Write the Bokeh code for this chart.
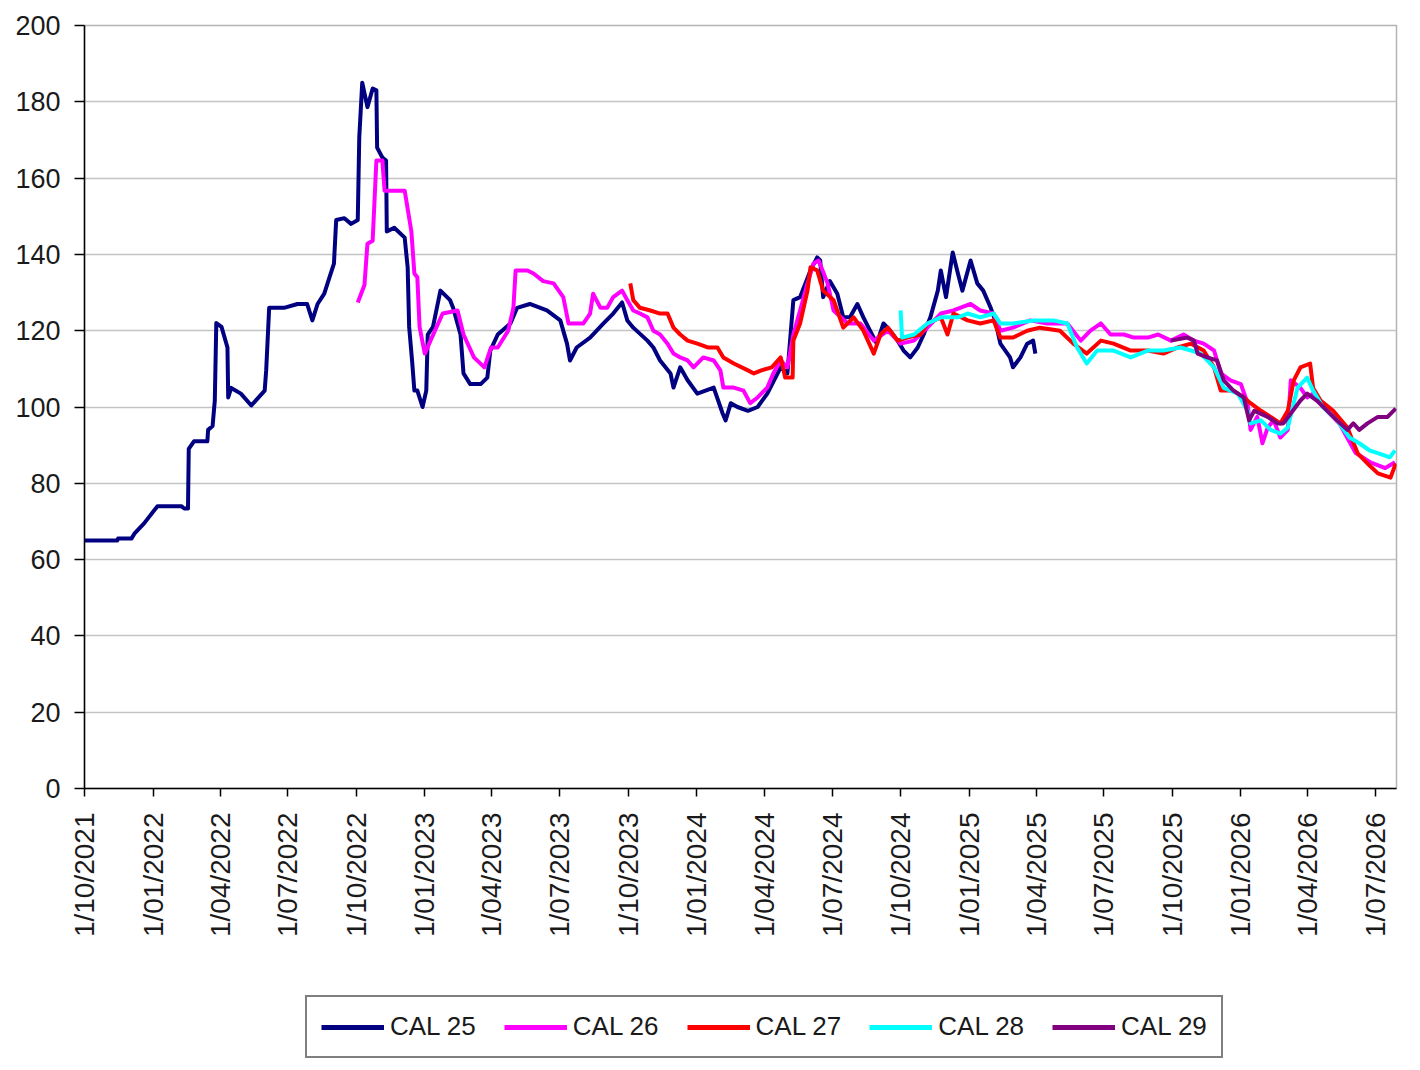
from math import pi

import pandas as pd
from bokeh.plotting import figure
from bokeh.layouts import column
from bokeh.models import Range1d, FixedTicker, Legend, LegendItem
from bokeh.embed import file_html
from bokeh.resources import INLINE

# data (dates are approximate)
cal25_dates = ["2021-10-01", "2021-11-14", "2021-11-15", "2021-12-03", "2021-12-07", "2021-12-20",
               "2022-01-07", "2022-02-08", "2022-02-12", "2022-02-17", "2022-02-18", "2022-02-25",
               "2022-03-15", "2022-03-16", "2022-03-22", "2022-03-25", "2022-03-27", "2022-04-03",
               "2022-04-11", "2022-04-12", "2022-04-16", "2022-04-29", "2022-05-13", "2022-05-31",
               "2022-06-02", "2022-06-06", "2022-06-26", "2022-07-14", "2022-07-27", "2022-08-03",
               "2022-08-10", "2022-08-19", "2022-08-26", "2022-09-01", "2022-09-04", "2022-09-15",
               "2022-09-24", "2022-10-03", "2022-10-05", "2022-10-09", "2022-10-16", "2022-10-23",
               "2022-10-28", "2022-10-29", "2022-11-05", "2022-11-10", "2022-11-11", "2022-11-21",
               "2022-12-05", "2022-12-09", "2022-12-11", "2022-12-15", "2022-12-18", "2022-12-22",
               "2022-12-29", "2023-01-03", "2023-01-05", "2023-01-12", "2023-01-22", "2023-02-04",
               "2023-02-08", "2023-02-18", "2023-02-22", "2023-03-03", "2023-03-17", "2023-03-26",
               "2023-03-30", "2023-04-09", "2023-04-26", "2023-05-05", "2023-05-22", "2023-06-14",
               "2023-07-02", "2023-07-11", "2023-07-15", "2023-07-24", "2023-08-11", "2023-08-29",
               "2023-09-11", "2023-09-23", "2023-09-30", "2023-10-08", "2023-10-27", "2023-11-04",
               "2023-11-13", "2023-11-27", "2023-12-01", "2023-12-10", "2023-12-20", "2024-01-02",
               "2024-01-24", "2024-02-05", "2024-02-09", "2024-02-16", "2024-02-25", "2024-03-10",
               "2024-03-23", "2024-04-05", "2024-04-23", "2024-05-02", "2024-05-10", "2024-05-19",
               "2024-06-02", "2024-06-11", "2024-06-15", "2024-06-19", "2024-06-28", "2024-07-08",
               "2024-07-16", "2024-07-25", "2024-08-04", "2024-08-12", "2024-08-21", "2024-08-30",
               "2024-09-08", "2024-09-17", "2024-09-27", "2024-10-05", "2024-10-14", "2024-10-24",
               "2024-11-01", "2024-11-10", "2024-11-20", "2024-11-24", "2024-12-01", "2024-12-10",
               "2024-12-17", "2024-12-23", "2025-01-03", "2025-01-12", "2025-01-20", "2025-01-30",
               "2025-02-05", "2025-02-12", "2025-02-25", "2025-03-01", "2025-03-11", "2025-03-20",
               "2025-03-28", "2025-03-31"]
cal25_vals = [65, 65, 65.5, 65.5, 66.8, 69.5,
              74, 74, 73.4, 73.4, 89, 91,
              91, 94, 95, 101.7, 122, 121,
              115.6, 102.5, 105, 103.5, 100.4, 104.3,
              109.6, 126, 126, 127, 127, 122.7,
              127, 129.7, 134, 137.6, 149, 149.5,
              148, 149, 170.6, 185, 178.6, 183.5,
              183, 168, 165.4, 164.6, 146, 147,
              144.4, 136.6, 121, 112, 104.3, 104.3,
              100, 104.3, 119, 121, 130.5, 128,
              126, 119, 108.8, 106, 106, 107.7,
              114.8, 119, 121.9, 126, 127, 125.3,
              122.7, 116.6, 112.2, 115.6, 118.2, 121.9,
              124.5, 127.4, 122.7, 120.8, 117.4, 115.6,
              112.2, 108.8, 105.1, 110.4, 107, 103.5,
              105.1, 98.3, 96.5, 101, 100, 99,
              100, 103.5, 110.4, 108.8, 128, 128.8,
              135.8, 139.2, 138.4, 128.8, 133, 129.7,
              123.5, 123.5, 127, 123.5, 120, 116.6,
              121.9, 120, 117.4, 114.8, 113, 115.6,
              119, 123.5, 130.5, 135.8, 128.8, 140.5,
              135, 130.5, 138.4, 132.4, 130.5, 126,
              122.7, 116.6, 113, 110.4, 113, 116.6,
              117.4, 114]

cal26_dates = ["2022-10-03", "2022-10-12", "2022-10-16", "2022-10-23", "2022-10-28", "2022-11-05",
               "2022-11-08", "2022-12-05", "2022-12-14", "2022-12-18", "2022-12-22", "2022-12-25",
               "2023-01-01", "2023-01-10", "2023-01-25", "2023-02-14", "2023-02-22", "2023-03-08",
               "2023-03-22", "2023-03-31", "2023-04-09", "2023-04-23", "2023-04-30", "2023-05-03",
               "2023-05-19", "2023-05-27", "2023-06-09", "2023-06-23", "2023-07-06", "2023-07-13",
               "2023-08-02", "2023-08-11", "2023-08-15", "2023-08-25", "2023-09-03", "2023-09-11",
               "2023-09-23", "2023-09-30", "2023-10-08", "2023-10-17", "2023-10-27", "2023-11-04",
               "2023-11-13", "2023-11-23", "2023-12-01", "2023-12-10", "2023-12-20", "2023-12-28",
               "2024-01-10", "2024-01-24", "2024-02-02", "2024-02-06", "2024-02-20", "2024-03-04",
               "2024-03-13", "2024-03-23", "2024-04-05", "2024-04-13", "2024-04-23", "2024-05-02",
               "2024-05-10", "2024-05-19", "2024-05-29", "2024-06-06", "2024-06-13", "2024-06-25",
               "2024-07-03", "2024-07-22", "2024-08-08", "2024-08-26", "2024-09-14", "2024-10-01",
               "2024-10-19", "2024-11-06", "2024-11-24", "2024-12-11", "2025-01-03", "2025-01-16",
               "2025-02-03", "2025-02-12", "2025-03-01", "2025-03-24", "2025-04-16", "2025-05-13",
               "2025-05-31", "2025-06-13", "2025-06-27", "2025-07-10", "2025-07-28", "2025-08-10",
               "2025-08-29", "2025-09-12", "2025-09-29", "2025-10-16", "2025-10-30", "2025-11-12",
               "2025-11-26", "2025-12-05", "2025-12-18", "2026-01-01", "2026-01-10", "2026-01-14",
               "2026-01-23", "2026-01-30", "2026-02-06", "2026-02-14", "2026-02-23", "2026-03-05",
               "2026-03-09", "2026-03-22", "2026-03-31", "2026-04-08", "2026-04-27", "2026-05-14",
               "2026-06-04", "2026-06-24", "2026-07-14", "2026-07-27"]
cal26_vals = [127.4, 132, 142.8, 143.6, 164.6, 164.6,
              156.7, 156.7, 146, 135, 134, 121,
              114, 118, 124.5, 125.3, 119, 113,
              110.4, 115.6, 115.6, 120, 126, 135.8,
              135.8, 135, 133, 132.4, 128.8, 121.9,
              121.9, 124.5, 129.7, 126, 126, 128.8,
              130.5, 128, 125.3, 124.5, 123.5, 120,
              119, 116.6, 114, 113, 112.2, 110.4,
              113, 112.2, 109.6, 105.1, 105.1, 104.3,
              101, 102.5, 105.1, 108.8, 112.2, 110.4,
              119, 125.3, 132.4, 137.6, 138.4, 132.4,
              125.3, 121.9, 121.9, 117.4, 120, 116.6,
              117.4, 120.8, 124.5, 125.3, 127, 125.3,
              124.5, 120, 120.8, 122.7, 121.9, 121.9,
              117.4, 120, 121.9, 119, 119, 118.2,
              118.2, 119, 117.4, 119, 117.4, 116.6,
              114.8, 108.8, 107, 106, 101, 94,
              97.4, 90.5, 94.6, 96.5, 92, 94,
              107, 105, 102.5, 103.5, 99, 95.5,
              88, 85.5, 84, 85.5]

cal27_dates = ["2023-10-04", "2023-10-08", "2023-10-17", "2023-10-31", "2023-11-13", "2023-11-23",
               "2023-12-01", "2023-12-10", "2023-12-20", "2024-01-02", "2024-01-16", "2024-01-29",
               "2024-02-06", "2024-02-20", "2024-03-10", "2024-03-18", "2024-03-28", "2024-04-11",
               "2024-04-23", "2024-04-29", "2024-05-09", "2024-05-10", "2024-05-19", "2024-05-29",
               "2024-06-02", "2024-06-11", "2024-06-19", "2024-07-03", "2024-07-16", "2024-07-30",
               "2024-08-12", "2024-08-26", "2024-09-04", "2024-09-14", "2024-09-27", "2024-10-10",
               "2024-10-28", "2024-11-06", "2024-11-24", "2024-12-03", "2024-12-11", "2024-12-30",
               "2025-01-16", "2025-02-03", "2025-02-12", "2025-03-01", "2025-03-20", "2025-04-06",
               "2025-05-03", "2025-05-21", "2025-06-08", "2025-06-27", "2025-07-14", "2025-08-06",
               "2025-08-29", "2025-09-19", "2025-10-08", "2025-10-26", "2025-11-12", "2025-11-26",
               "2025-12-05", "2025-12-22", "2026-01-05", "2026-01-14", "2026-01-28", "2026-02-10",
               "2026-02-23", "2026-03-05", "2026-03-13", "2026-03-22", "2026-04-04", "2026-04-08",
               "2026-04-18", "2026-05-05", "2026-05-24", "2026-06-07", "2026-06-20", "2026-07-04",
               "2026-07-21", "2026-07-28"]
cal27_vals = [132.4, 128, 126, 125.3, 124.5, 124.5,
              120.8, 119, 117.4, 116.6, 115.6, 115.6,
              113, 111.4, 109.6, 108.8, 109.6, 110.4,
              113, 107.7, 107.7, 117.4, 121.9, 130.5,
              136.6, 135.8, 130.5, 128, 120.8, 123.5,
              120, 114, 119, 120.8, 117.4, 118.2,
              119, 121.9, 123.5, 119, 124.5, 122.7,
              121.9, 122.7, 118.2, 118.2, 120, 120.8,
              120, 116.6, 114, 117.4, 116.6, 114.8,
              114.8, 114, 115.6, 116.6, 114.8, 110.4,
              104.3, 104.3, 102.5, 101, 99, 97.4,
              95.7, 99, 107, 110.4, 111.4, 105,
              101.7, 99, 94.6, 87.8, 85.2, 82.6,
              81.5, 85.2]

cal28_dates = ["2024-10-01", "2024-10-03", "2024-10-19", "2024-11-06", "2024-11-24", "2024-12-17",
               "2024-12-30", "2025-01-16", "2025-02-03", "2025-02-12", "2025-03-01", "2025-03-28",
               "2025-04-24", "2025-05-13", "2025-05-26", "2025-06-08", "2025-06-22", "2025-07-14",
               "2025-08-06", "2025-08-29", "2025-09-19", "2025-10-12", "2025-10-26", "2025-11-08",
               "2025-11-26", "2025-12-09", "2025-12-28", "2026-01-10", "2026-01-14", "2026-01-28",
               "2026-02-10", "2026-02-23", "2026-03-05", "2026-03-18", "2026-03-31", "2026-04-08",
               "2026-04-21", "2026-05-10", "2026-05-27", "2026-06-09", "2026-06-23", "2026-07-06",
               "2026-07-20", "2026-07-27"]
cal28_vals = [125.3, 118.2, 119, 121.9, 123.5, 123.5,
              124.5, 123.5, 124.5, 121.9, 121.9, 122.7,
              122.7, 121.9, 115.6, 111.4, 114.8, 114.8,
              113, 114.8, 114.8, 115.6, 114.8, 114,
              110.4, 105, 103.5, 99, 95.7, 96.5,
              94, 93, 94.6, 105, 107.7, 104.3,
              100, 96.5, 92, 90.5, 88.6, 87.8,
              86.8, 88.6]

cal29_dates = ["2025-09-29", "2025-10-21", "2025-10-30", "2025-11-04", "2025-11-17", "2025-11-30",
               "2025-12-09", "2025-12-22", "2026-01-05", "2026-01-12", "2026-01-19", "2026-02-06",
               "2026-02-19", "2026-02-27", "2026-03-09", "2026-03-22", "2026-03-31", "2026-04-13",
               "2026-04-27", "2026-05-10", "2026-05-24", "2026-06-01", "2026-06-09", "2026-06-20",
               "2026-07-04", "2026-07-17", "2026-07-28"]
cal29_vals = [117.4, 118.2, 117.4, 114, 113, 112.2,
              107, 104.3, 102.5, 96.5, 99, 97.4,
              95.7, 95.7, 98.3, 101.7, 103.5, 101.7,
              99, 96.5, 94, 95.7, 94, 95.7,
              97.4, 97.4, 99.6]

series_names = ["CAL 25", "CAL 26", "CAL 27", "CAL 28", "CAL 29"]
series_colors = ["#000080", "#FF00FF", "#FF0000", "#00FFFF", "#800080"]

tick_labels = ["1/10/2021", "1/01/2022", "1/04/2022", "1/07/2022", "1/10/2022", "1/01/2023",
               "1/04/2023", "1/07/2023", "1/10/2023", "1/01/2024", "1/04/2024", "1/07/2024",
               "1/10/2024", "1/01/2025", "1/04/2025", "1/07/2025", "1/10/2025", "1/01/2026",
               "1/04/2026", "1/07/2026"]
y_ticks = [0, 20, 40, 60, 80, 100, 120, 140, 160, 180, 200]

FONT = "Liberation Sans"
LINE_W = 4

p = figure(width=1410, height=940, x_axis_type="datetime",
           x_range=Range1d(pd.Timestamp("2021-10-01"), pd.Timestamp("2026-07-29")),
           y_range=Range1d(0, 200),
           output_backend="svg", toolbar_location=None,
           min_border_left=84, min_border_right=14, min_border_top=25, min_border_bottom=152)
p.outline_line_color = "#B4B4B4"
p.outline_line_width = 1.5
p.xgrid.grid_line_color = None
p.ygrid.grid_line_color = "#C4C4C4"
p.ygrid.grid_line_width = 1.5

all_dates = [cal25_dates, cal26_dates, cal27_dates, cal28_dates, cal29_dates]
all_vals = [cal25_vals, cal26_vals, cal27_vals, cal28_vals, cal29_vals]

for col, d, v in zip(series_colors, all_dates, all_vals):
    p.line(pd.to_datetime(d), v, line_color=col, line_width=LINE_W, line_join="round")

# x axis: quarterly ticks with d/mm/yyyy labels
tick_dt = pd.to_datetime(tick_labels, format="%d/%m/%Y")
tick_ms = [int(t.value // 10**6) for t in tick_dt]
p.xaxis.ticker = FixedTicker(ticks=tick_ms)
p.xaxis.major_label_overrides = dict(zip(tick_ms, tick_labels))
p.xaxis.major_label_orientation = pi / 2
p.xaxis.minor_tick_line_color = None
p.xaxis.major_tick_out = 8
p.xaxis.major_tick_in = 0
p.xaxis.major_label_standoff = 16

p.yaxis.ticker = FixedTicker(ticks=y_ticks)
p.yaxis.minor_tick_line_color = None
p.yaxis.major_tick_out = 10
p.yaxis.major_tick_in = 0
p.yaxis.major_label_standoff = 14

for ax in (p.xaxis, p.yaxis):
    ax.axis_line_color = "black"
    ax.axis_line_width = 1.5
    ax.major_tick_line_color = "black"
    ax.major_tick_line_width = 1.5
    ax.major_label_text_font = FONT
    ax.major_label_text_color = "#1a1a1a"
p.xaxis.major_label_text_font_size = "28px"
p.yaxis.major_label_text_font_size = "27px"

# legend strip under the chart: its own small figure; the series are drawn
# there too but fall outside its (0..1) ranges, so only the legend keys show
lf = figure(width=1410, height=122, x_range=(0, 1), y_range=(0, 1),
            x_axis_location=None, y_axis_location=None,
            output_backend="svg", toolbar_location=None,
            min_border_left=0, min_border_right=0, min_border_top=0, min_border_bottom=0)
lf.grid.visible = False
lf.outline_line_color = None

items = []
for name, col, d, v in zip(series_names, series_colors, all_dates, all_vals):
    key = lf.line(pd.to_datetime(d), v, line_color=col, line_width=LINE_W + 1)
    items.append(LegendItem(label=name, renderers=[key]))

legend = Legend(items=items, orientation="horizontal", location=(221, 4))
legend.label_text_font = FONT
legend.label_text_font_size = "26px"
legend.label_text_color = "#1a1a1a"
legend.glyph_width = 63
legend.glyph_height = 20
legend.label_standoff = 6
legend.spacing = 28
legend.padding = 14
legend.margin = 0
legend.border_line_color = "black"
legend.border_line_width = 2
legend.background_fill_alpha = 1.0
lf.add_layout(legend)

open("out.html", "w").write(file_html(column(p, lf), INLINE))
